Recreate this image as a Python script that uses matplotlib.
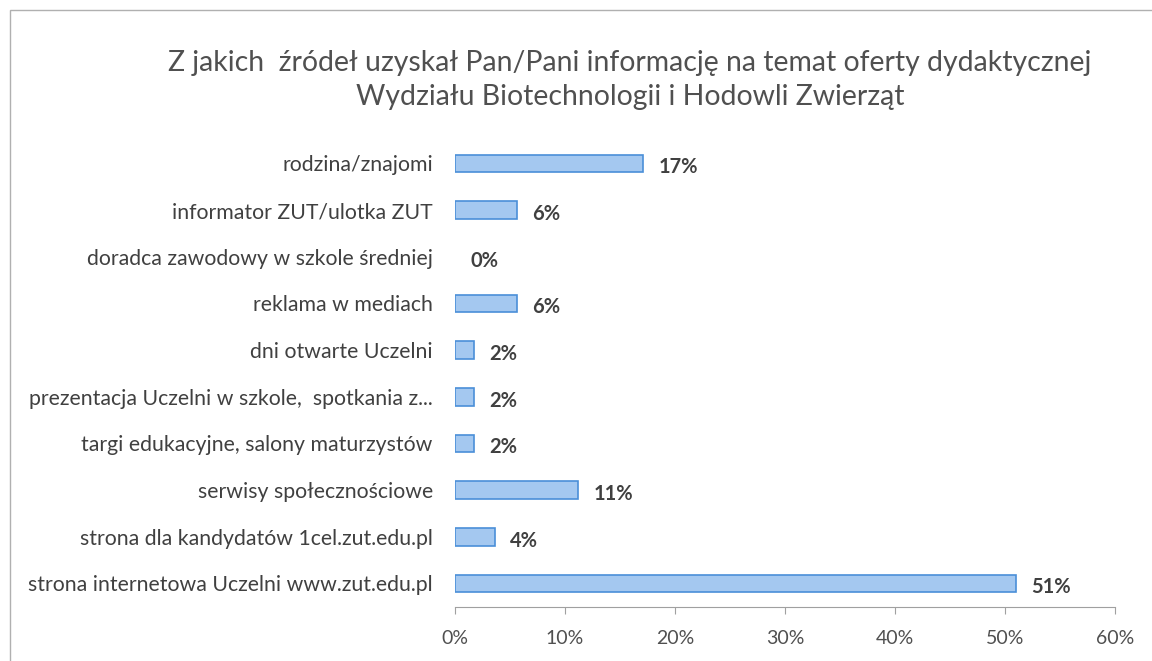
import matplotlib.pyplot as plt
from matplotlib.patches import Rectangle
from matplotlib.ticker import PercentFormatter

plt.rcParams['font.family'] = ['Lato', 'DejaVu Sans']

categories = ['rodzina/znajomi',
              'informator ZUT/ulotka ZUT',
              'doradca zawodowy w szkole średniej',
              'reklama w mediach',
              'dni otwarte Uczelni',
              'prezentacja Uczelni w szkole,  spotkania z...',
              'targi edukacyjne, salony maturzystów',
              'serwisy społecznościowe',
              'strona dla kandydatów 1cel.zut.edu.pl',
              'strona internetowa Uczelni www.zut.edu.pl']
values = [17.1, 5.6, 0, 5.6, 1.7, 1.7, 1.7, 11.2, 3.6, 51.0]
xticks = [0, 10, 20, 30, 40, 50, 60]

fig = plt.figure(figsize=(11.52, 6.61), dpi=100)
ax = fig.add_axes([0.395, 0.082, 0.573, 0.706])

y = list(range(len(categories)))
ax.barh(y, values, height=0.38, color='#a4c8f0', edgecolor='#4a8fd8',
        linewidth=[1.2 if v > 0 else 0 for v in values])
for yi, v in zip(y, values):
    ax.text(v + 1.4, yi + 0.08, f'{round(v):.0f}%', va='center', ha='left',
            fontsize=14.5, fontweight='bold', color='#404040')

ax.set_ylim(len(categories) - 0.5, -0.5)
ax.set_yticks(y)
ax.set_yticklabels(categories, fontsize=15.3, color='#404040')
ax.tick_params(axis='y', length=0, pad=16)

ax.set_xlim(0, 60)
ax.set_xticks(xticks)
ax.xaxis.set_major_formatter(PercentFormatter(decimals=0))
ax.tick_params(axis='x', direction='out', length=5, color='#a0a0a0', labelsize=14,
               labelcolor='#505050', pad=12)

for s in ['top', 'right', 'left']:
    ax.spines[s].set_visible(False)
ax.spines['bottom'].set_color('#a0a0a0')

fig.text(0.547, 0.905, 'Z jakich  źródeł uzyskał Pan/Pani informację na temat oferty dydaktycznej',
         ha='center', va='center', fontsize=20.4, color='#505050')
fig.text(0.547, 0.853, 'Wydziału Biotechnologii i Hodowli Zwierząt',
         ha='center', va='center', fontsize=20.4, color='#505050')

fig.patches.append(Rectangle((0.009, -0.1), 1.2, 1.085, transform=fig.transFigure,
                             fill=False, edgecolor='#b0b0b0', linewidth=1))

fig.savefig('out.png', dpi=100)
